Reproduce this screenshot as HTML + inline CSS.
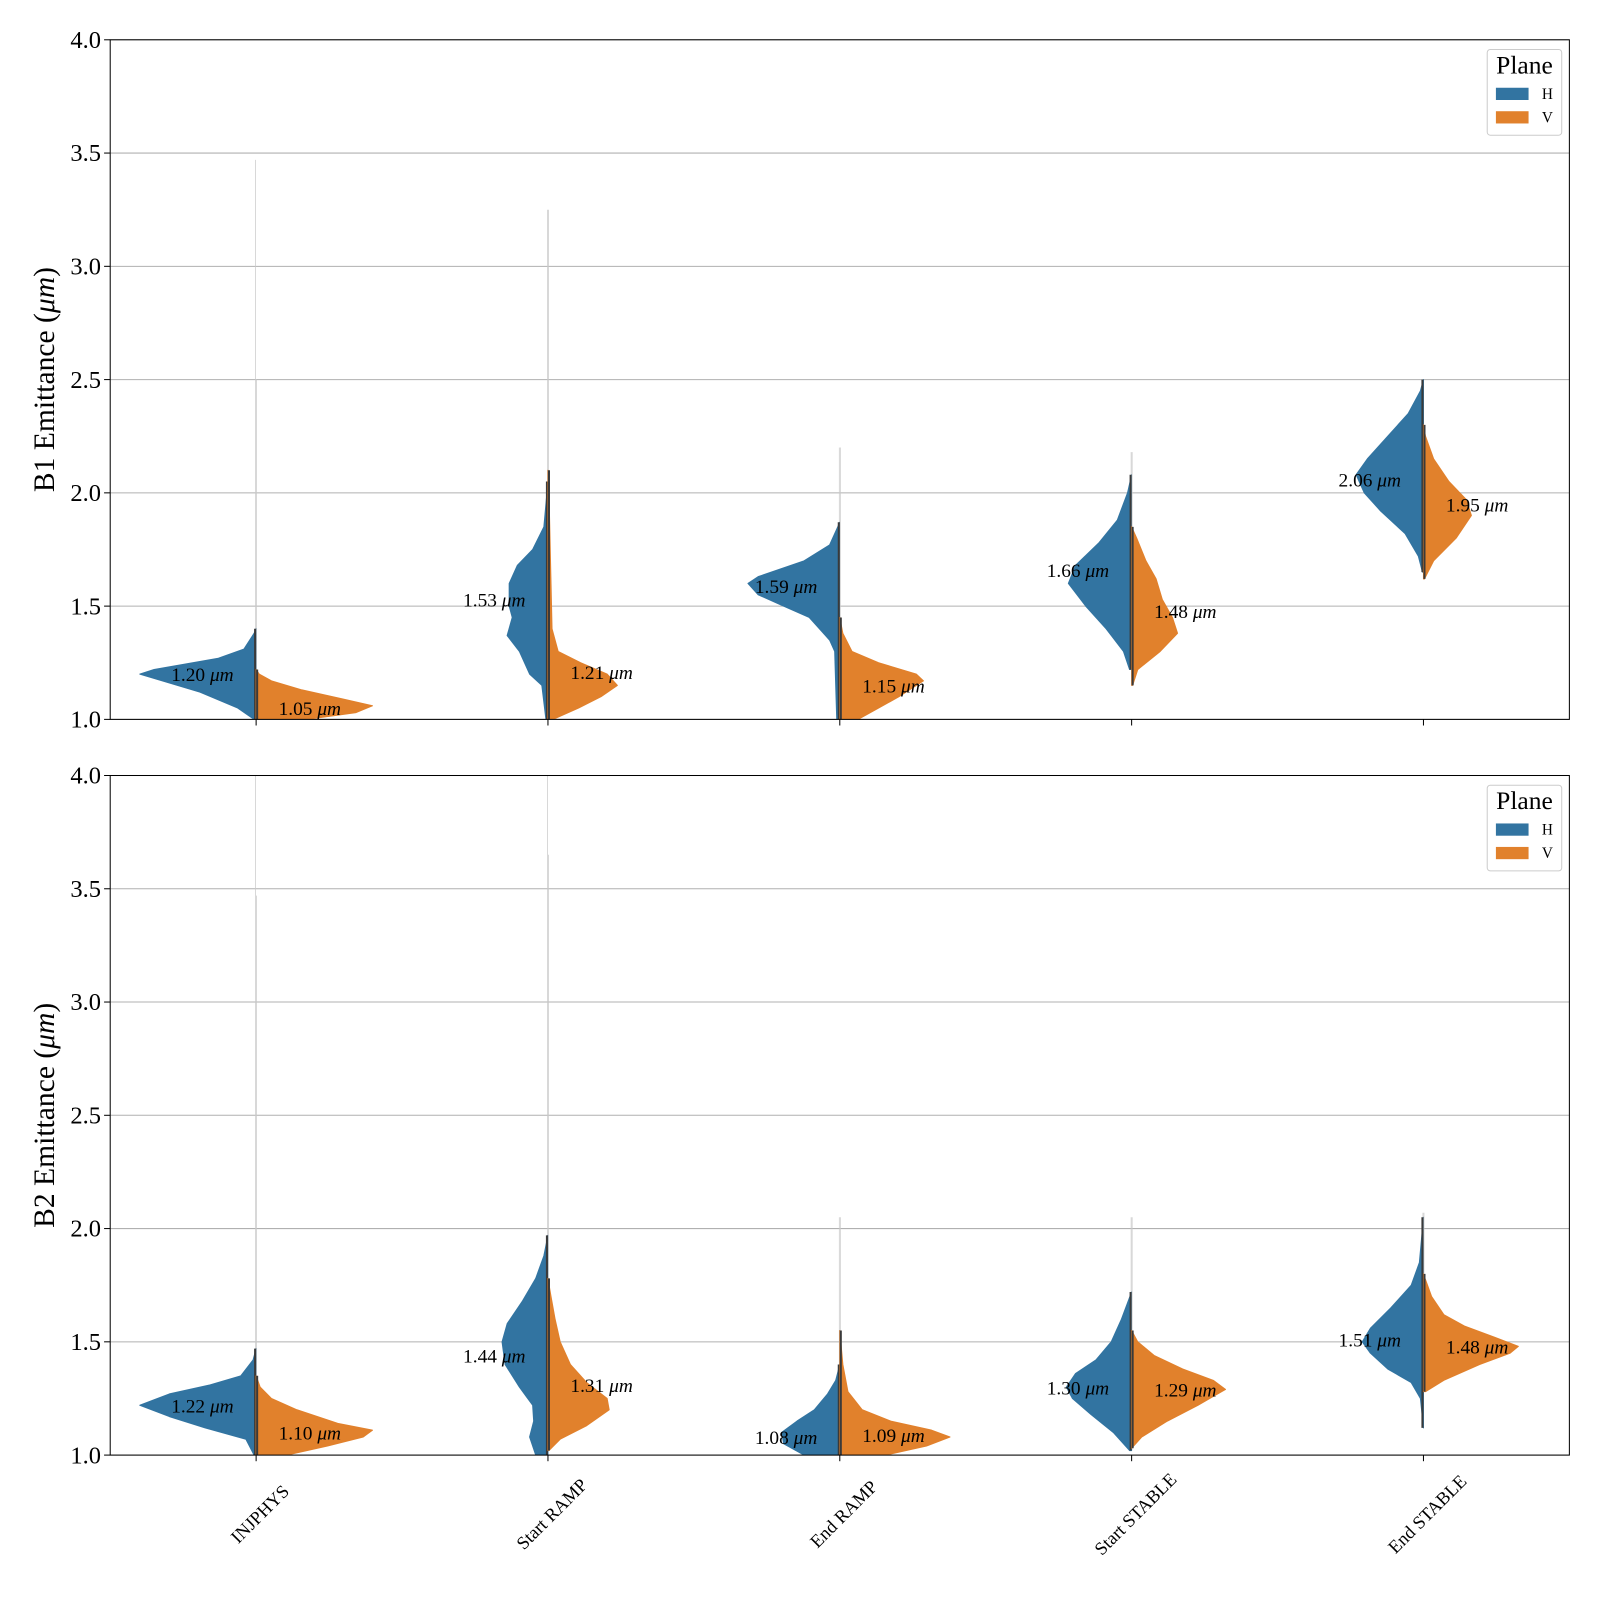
<!DOCTYPE html>
<html><head><meta charset="utf-8"><style>
body{margin:0;background:#fff}
svg{display:block;font-family:"Liberation Serif","DejaVu Serif",serif}
</style></head><body>
<svg id="chart" width="1600" height="1600" viewBox="0 0 1600 1600"><g id="root" transform="scale(1.0204)"></g></svg>
<script>
const categories=["INJPHYS","Start RAMP","End RAMP","Start STABLE","End STABLE"];
// profiles: [value, relative half-width]
const b1H=[
 [[1.0,2],[1.05,18],[1.12,55],[1.20,114],[1.22,100],[1.27,37],[1.31,12],[1.38,2],[1.4,0]],
 [[1.0,2],[1.15,6],[1.2,18],[1.3,28],[1.37,40],[1.45,35],[1.5,38],[1.6,38],[1.68,30],[1.75,15],[1.85,4],[2.0,1],[2.05,0]],
 [[1.0,3],[1.3,5],[1.35,10],[1.45,30],[1.5,55],[1.55,80],[1.6,90],[1.63,80],[1.7,35],[1.77,10],[1.87,0]],
 [[1.22,2],[1.3,8],[1.4,25],[1.5,45],[1.6,62],[1.68,55],[1.78,32],[1.88,14],[2.0,4],[2.08,0]],
 [[1.65,1],[1.72,5],[1.82,18],[1.92,42],[2.0,58],[2.08,66],[2.15,55],[2.25,35],[2.35,15],[2.45,3],[2.5,0]]];
const b1V=[
 [[1.0,50],[1.03,98],[1.06,114],[1.09,85],[1.13,45],[1.17,15],[1.2,3],[1.22,0]],
 [[1.0,5],[1.05,30],[1.1,52],[1.15,68],[1.2,58],[1.25,32],[1.3,10],[1.4,4],[1.6,3],[2.0,1],[2.1,0]],
 [[1.0,18],[1.05,38],[1.1,58],[1.17,82],[1.2,75],[1.25,38],[1.3,12],[1.38,3],[1.45,0]],
 [[1.15,1],[1.22,6],[1.3,28],[1.38,45],[1.45,40],[1.53,30],[1.62,24],[1.7,14],[1.8,5],[1.85,0]],
 [[1.62,1],[1.7,10],[1.8,32],[1.9,47],[1.97,42],[2.05,25],[2.15,10],[2.25,2],[2.3,0]]];
const b2H=[
 [[1.0,2],[1.07,10],[1.12,50],[1.17,85],[1.22,114],[1.27,85],[1.31,45],[1.35,15],[1.42,3],[1.47,0]],
 [[1.0,12],[1.08,18],[1.15,14],[1.22,15],[1.3,28],[1.4,42],[1.5,45],[1.58,40],[1.68,25],[1.78,12],[1.88,4],[1.97,0]],
 [[1.0,35],[1.05,55],[1.1,57],[1.15,42],[1.2,25],[1.27,12],[1.33,4],[1.4,0]],
 [[1.02,2],[1.1,18],[1.18,40],[1.25,58],[1.3,64],[1.36,55],[1.42,35],[1.5,20],[1.6,10],[1.72,0]],
 [[1.12,0],[1.25,3],[1.32,12],[1.38,35],[1.45,52],[1.5,60],[1.56,52],[1.65,32],[1.75,12],[1.85,4],[2.05,0]]];
const b2V=[
 [[1.0,30],[1.04,70],[1.08,105],[1.11,114],[1.14,80],[1.2,40],[1.25,15],[1.3,4],[1.35,0]],
 [[1.02,1],[1.07,12],[1.13,38],[1.2,60],[1.25,58],[1.32,38],[1.4,22],[1.5,12],[1.6,7],[1.7,3],[1.78,0]],
 [[1.0,45],[1.04,85],[1.08,108],[1.11,90],[1.15,50],[1.2,22],[1.28,8],[1.4,3],[1.5,1],[1.55,0]],
 [[1.03,0],[1.08,10],[1.15,35],[1.22,65],[1.29,92],[1.33,80],[1.38,50],[1.44,22],[1.5,6],[1.55,0]],
 [[1.28,2],[1.33,20],[1.4,55],[1.45,85],[1.48,93],[1.52,70],[1.57,40],[1.62,20],[1.7,8],[1.8,0]]];
const b1Means=[[1.20,1.05],[1.53,1.21],[1.59,1.15],[1.66,1.48],[2.06,1.95]];
const b2Means=[[1.22,1.10],[1.44,1.31],[1.08,1.09],[1.30,1.29],[1.51,1.48]];
const b1TailMax=[[3.47,2.5],[3.25,3.25],[2.2,2.2],[2.18,2.18],[2.5,2.3]];
const b2TailMax=[[4.0,3.47],[4.0,3.65],[2.05,2.05],[2.05,2.05],[2.07,2.07]];
const yTicks=[1.0,1.5,2.0,2.5,3.0,3.5,4.0];

const NS="http://www.w3.org/2000/svg";
const svg=document.getElementById('root');
function mk(tag,attrs,parent){const e=document.createElementNS(NS,tag);for(const k in attrs)e.setAttribute(k,attrs[k]);(parent||svg).appendChild(e);return e;}
const X0=108,X1=1538,BLUE="#3274a1",ORANGE="#e1812c";
const xScale=i=>X0+(X1-X0)/categories.length*(i+0.5);
const wScale=w=>w;

function panel(top,H,V,means,tails,title,pname,showX){
  const bot=top+666;
  const y=v=>bot-(v-1.0)/3.0*(bot-top);
  const g=mk('g',{});
  
  
  yTicks.forEach(t=>{
    const l=mk('line',{x1:X0,x2:X1,y1:y(t),y2:y(t),stroke:'#b0b0b0','stroke-width':1},g);
    
    mk('line',{x1:X0-6,x2:X0,y1:y(t),y2:y(t),stroke:'#000','stroke-width':1},g);
    const tx=mk('text',{x:X0-9,y:y(t)+8,'text-anchor':'end','font-size':24},g);
    tx.textContent=t.toFixed(1);
    
  });
  const yt=mk('text',{x:0,y:0,transform:`translate(53,${(top+bot)/2}) rotate(-90)`,'text-anchor':'middle','font-size':29},g);
  yt.innerHTML=title+' Emittance (<tspan font-style="italic">μm</tspan>)';
  
  const cp='clip'+top;
  const cpe=mk('clipPath',{id:cp},g);mk('rect',{x:X0,y:top,width:X1-X0,height:bot-top},cpe);
  const vg=mk('g',{'clip-path':`url(#${cp})`},g);
  categories.forEach((c,i)=>{
    const cx=xScale(i);
    mk('line',{x1:cx,x2:cx,y1:bot,y2:bot+6,stroke:'#000'},g);
    [[H[i],-1,BLUE,tails[i][0]],[V[i],1,ORANGE,tails[i][1]]].forEach(([prof,s,col,tm],k)=>{
      const tl=mk('line',{x1:cx+s*0.5,x2:cx+s*0.5,y1:y(prof[prof.length-1][0]),y2:y(tm),stroke:'#c8c8c8','stroke-width':0.7},vg);
      
      let d=`M${cx},${y(prof[0][0])}`;
      prof.forEach(p=>{d+=` L${cx+s*wScale(p[1])},${y(p[0])}`;});
      d+=` L${cx},${y(prof[prof.length-1][0])} Z`;
      const p=mk('path',{d,fill:col,stroke:col,'stroke-width':1,'stroke-linejoin':'round'},vg);
      
      
      const st=mk('line',{x1:cx+s*1,x2:cx+s*1,y1:y(prof[0][0]),y2:y(prof[prof.length-1][0]),stroke:'#3a3a3a','stroke-width':2},vg);
      
    });
    const m=means[i];
    const th=mk('text',{x:cx-22,y:y(m[0])+7,'text-anchor':'end','font-size':19},g);
    th.innerHTML=m[0].toFixed(2)+' <tspan font-style="italic">μm</tspan>';
    
    const tv=mk('text',{x:cx+22,y:y(m[1])+7,'text-anchor':'start','font-size':19},g);
    tv.innerHTML=m[1].toFixed(2)+' <tspan font-style="italic">μm</tspan>';
    
    if(showX){
      const xl=mk('text',{x:0,y:0,transform:`translate(${cx+8},${bot+62}) rotate(-45)`,'text-anchor':'middle','font-size':18},g);
      xl.textContent=c;
      
    }
  });
  const fr=mk('rect',{x:X0,y:top,width:X1-X0,height:bot-top,fill:'none',stroke:'#000','stroke-width':1},g);
  
  const lg=mk('g',{},g);
  
  mk('rect',{x:1457.5,y:top+9.5,width:73,height:84,rx:3,fill:'#fff',stroke:'#ccc'},lg);
  const lt=mk('text',{x:1494,y:top+33,'text-anchor':'middle','font-size':25},lg);lt.textContent='Plane';
  [['H',BLUE],['V',ORANGE]].forEach(([n,c],k)=>{
    const r=mk('rect',{x:1466,y:top+47+k*23,width:32,height:12,fill:c},lg);
    
    const t=mk('text',{x:1511,y:top+58+k*23,'font-size':15},lg);t.textContent=n;
  });
}
panel(39,b1H,b1V,b1Means,b1TailMax,'B1','panel-b1',false);
panel(760,b2H,b2V,b2Means,b2TailMax,'B2','panel-b2',true);
</script>
</body></html>
